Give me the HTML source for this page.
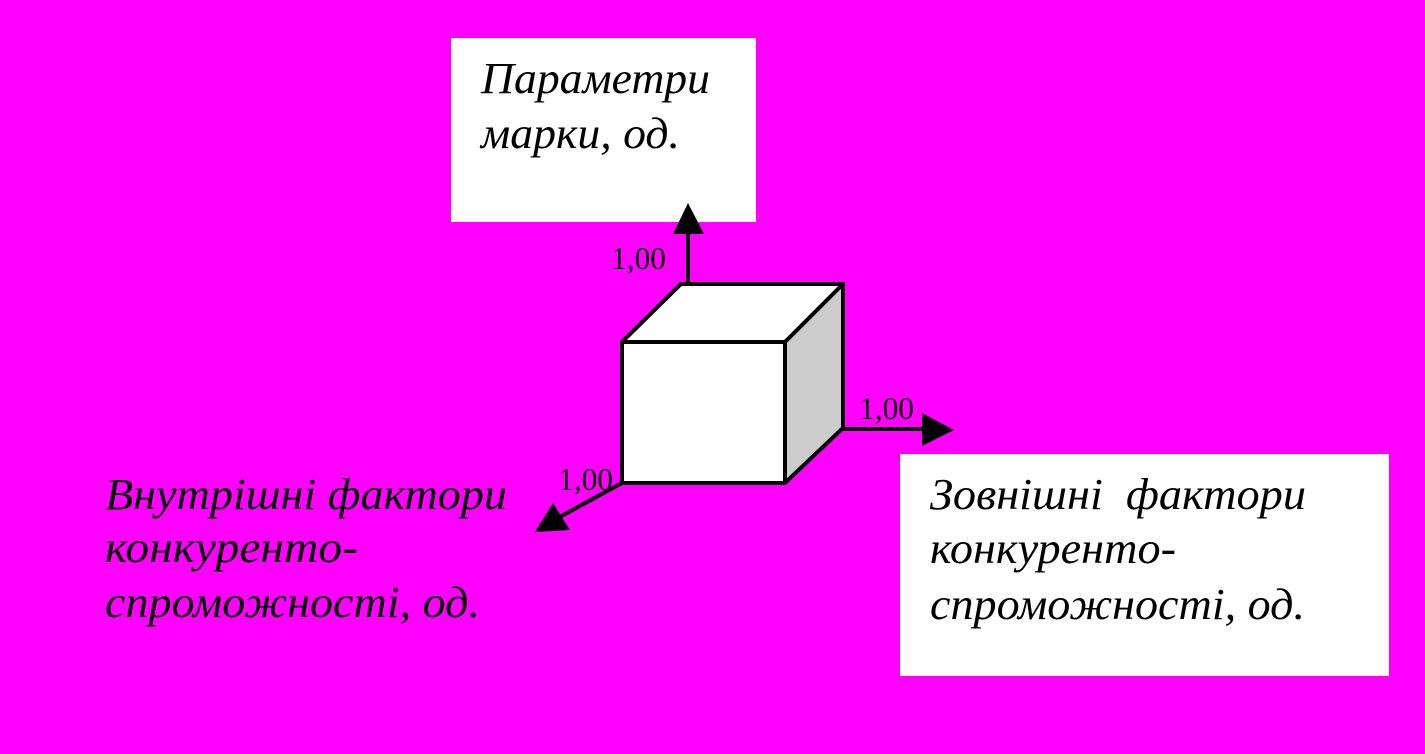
<!DOCTYPE html>
<html lang="uk">
<head>
<meta charset="utf-8">
<title>Diagram</title>
<style>
html,body{margin:0;padding:0;width:1425px;height:754px;overflow:hidden;background:#ff00ff}
svg{display:block}
.t{font-family:"Liberation Serif","Noto Serif CJK SC",serif;font-style:italic;font-size:44px;fill:#000}
.n{font-family:"Liberation Serif","Noto Serif CJK SC",serif;font-size:32px;fill:#000}
</style>
</head>
<body>
<svg width="1425" height="754" viewBox="0 0 1425 754" xmlns="http://www.w3.org/2000/svg">
<rect width="1425" height="754" fill="#ff00ff"/>
<rect x="451" y="38" width="305" height="184" fill="#fff"/>
<rect x="900" y="454" width="489" height="222" fill="#fff"/>

<path d="M622 342L681 284H843L785 342Z" fill="#fff"/>
<rect x="622" y="342" width="163" height="141" fill="#fff"/>
<path d="M785 342L843 284V428L785 483Z" fill="#cccccc"/>
<g fill="none" stroke="#000" stroke-width="4" stroke-linejoin="miter">
<path d="M622 342L681 284H843V428L785 483H622Z"/>
<path d="M622 342H785V483"/>
<path d="M785 342L843 284"/>
<path d="M688 284V230"/>
<path d="M843 429H925"/>
<path d="M622 483L556 519"/>
</g>
<path d="M688 203L704 234H673Z" fill="#000"/>
<path d="M922 413L954 430L922 446Z" fill="#000"/>
<path d="M535 532L553 503L570 530Z" fill="#000"/>

<text class="n" x="611" y="269" textLength="55" lengthAdjust="spacingAndGlyphs">1,00</text>
<text class="n" x="859" y="419" textLength="55" lengthAdjust="spacingAndGlyphs">1,00</text>
<text class="n" x="558" y="490" textLength="55" lengthAdjust="spacingAndGlyphs">1,00</text>

<text class="t" x="481" y="93" textLength="229" lengthAdjust="spacingAndGlyphs">Параметри</text>
<text class="t" x="481" y="148" textLength="199" lengthAdjust="spacingAndGlyphs">марки, од.</text>

<text class="t" x="105" y="509" textLength="402" lengthAdjust="spacingAndGlyphs">Внутрішні фактори</text>
<text class="t" x="105" y="562" textLength="253" lengthAdjust="spacingAndGlyphs">конкуренто-</text>
<text class="t" x="105" y="617" textLength="375" lengthAdjust="spacingAndGlyphs">спроможності, од.</text>

<text class="t" x="930" y="509" textLength="376" lengthAdjust="spacingAndGlyphs" xml:space="preserve">Зовнішні  фактори</text>
<text class="t" x="930" y="563" textLength="246" lengthAdjust="spacingAndGlyphs">конкуренто-</text>
<text class="t" x="930" y="619" textLength="375" lengthAdjust="spacingAndGlyphs">спроможності, од.</text>
</svg>
</body>
</html>
